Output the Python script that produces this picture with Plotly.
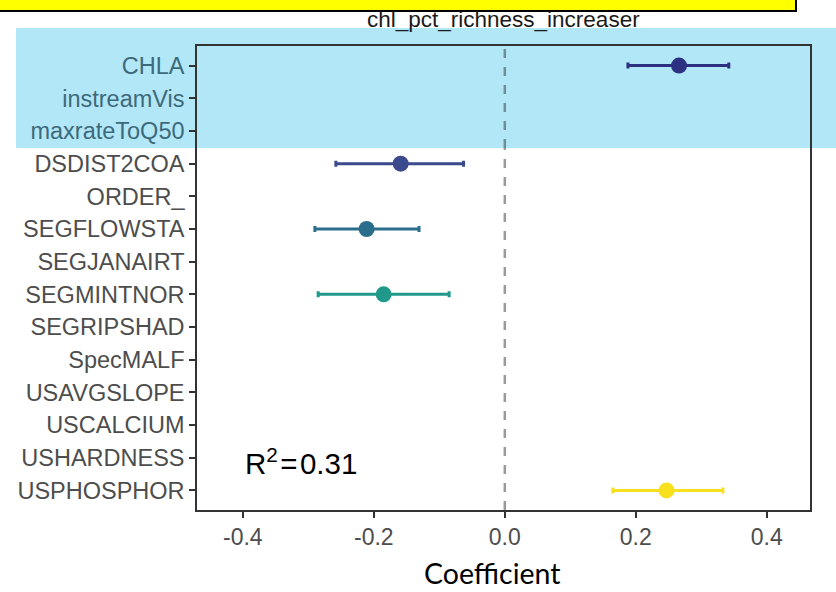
import plotly.graph_objects as go

# ---- data ----
variables = ["CHLA", "instreamVis", "maxrateToQ50", "DSDIST2COA", "ORDER_",
             "SEGFLOWSTA", "SEGJANAIRT", "SEGMINTNOR", "SEGRIPSHAD", "SpecMALF",
             "USAVGSLOPE", "USCALCIUM", "USHARDNESS", "USPHOSPHOR"]
coef = [0.266, None, None, -0.159, None, -0.211, None, -0.185, None, None, None, None, None, 0.247]
ci_low = [0.188, None, None, -0.258, None, -0.290, None, -0.285, None, None, None, None, None, 0.165]
ci_high = [0.342, None, None, -0.063, None, -0.131, None, -0.085, None, None, None, None, None, 0.333]
point_colors = ["#2d3182", None, None, "#3b4a8c", None, "#2b6e8b", None, "#21998a",
                None, None, None, None, None, "#f8e11c"]
highlighted = {"CHLA", "instreamVis", "maxrateToQ50"}
x_ticks = [-0.4, -0.2, 0.0, 0.2, 0.4]
x_tick_labels = ["-0.4", "-0.2", "0.0", "0.2", "0.4"]
title_text = "chl_pct_richness_increaser"
r2_value = 0.31

fig = go.Figure()
ypos = list(range(len(variables)))
for i, v in enumerate(variables):
    if coef[i] is None:
        continue
    fig.add_trace(go.Scatter(
        x=[coef[i]], y=[ypos[i]], mode="markers",
        marker=dict(size=16, color=point_colors[i]),
        error_x=dict(type="data", symmetric=False,
                     array=[ci_high[i] - coef[i]], arrayminus=[coef[i] - ci_low[i]],
                     color=point_colors[i], thickness=3, width=3),
        showlegend=False, hoverinfo="skip"))

tick_text = [f'<span style="color:#3d6a7a">{v}</span>' if v in highlighted else v for v in variables]

# margins so that the panel spans px x 197..810, y 46..510
W, H = 836, 592
L, R, T, B = 197, 26, 46, 82
pw, ph = W - L - R, H - T - B

def px_x(px):
    return (px - L) / pw

def px_y(py):
    return (H - B - py) / ph

fig.update_layout(
    width=W, height=H,
    margin=dict(l=L, r=R, t=T, b=B, pad=0),
    paper_bgcolor="white", plot_bgcolor="rgba(0,0,0,0)",
    font=dict(family="Liberation Sans, Arial, sans-serif", color="#4d4d4d"),
    xaxis=dict(range=[-0.470, 0.466], tickvals=x_ticks, ticktext=x_tick_labels,
               showgrid=False, zeroline=False, showline=True, mirror=True,
               linecolor="#333333", linewidth=1.5, ticks="outside", ticklen=6,
               tickwidth=2, tickcolor="#333333", tickfont=dict(size=23, color="#4d4d4d")),
    yaxis=dict(range=[len(variables) - 0.4, -0.6], tickvals=ypos, ticktext=tick_text,
               showgrid=False, zeroline=False, showline=True, mirror=True,
               linecolor="#333333", linewidth=1.5, ticks="outside", ticklen=6,
               tickwidth=2, tickcolor="#333333", tickfont=dict(size=23.5, color="#4d4d4d")),
)

# highlight band (below data)
fig.add_shape(type="rect", xref="paper", yref="paper",
              x0=px_x(16), x1=px_x(840), y0=px_y(148), y1=px_y(28),
              fillcolor="#b2e7f8", line=dict(width=0), layer="below")
# yellow box at top
fig.add_shape(type="rect", xref="paper", yref="paper",
              x0=px_x(-10), x1=px_x(796), y0=px_y(11), y1=px_y(-20),
              fillcolor="#ffff00", line=dict(width=2, color="black"), layer="above")
# dashed zero line (two segments: inside/outside band)
fig.add_shape(type="line", xref="x", yref="paper", x0=0, x1=0,
              y0=0, y1=px_y(148), line=dict(color="#9a9a9a", width=2.5, dash="dash"))
fig.add_shape(type="line", xref="x", yref="paper", x0=0, x1=0,
              y0=px_y(148), y1=1, line=dict(color="#6e8f99", width=2.5, dash="dash"))

fig.add_annotation(text=title_text, xref="paper", yref="paper", x=0.5, y=px_y(20),
                   xanchor="center", yanchor="middle", showarrow=False,
                   font=dict(size=22.5, color="#1a1a1a"))
fig.add_annotation(text=f"R<sup>2</sup>\u200a=\u200a{r2_value:.2f}", xref="paper", yref="paper",
                   x=px_x(243), y=px_y(461), xanchor="left", yanchor="middle", showarrow=False,
                   font=dict(size=29.5, color="black"))
fig.add_annotation(text="Coefficient", xref="paper", yref="paper",
                   x=px_x(492), y=px_y(573), xanchor="center", yanchor="middle", showarrow=False,
                   font=dict(size=28.5, color="black", family="Lato, Carlito, Calibri, sans-serif"))

fig.write_html("out.html", config={"displayModeBar": False},
               post_script="document.body.style.margin='0';document.body.style.overflow='hidden';")
